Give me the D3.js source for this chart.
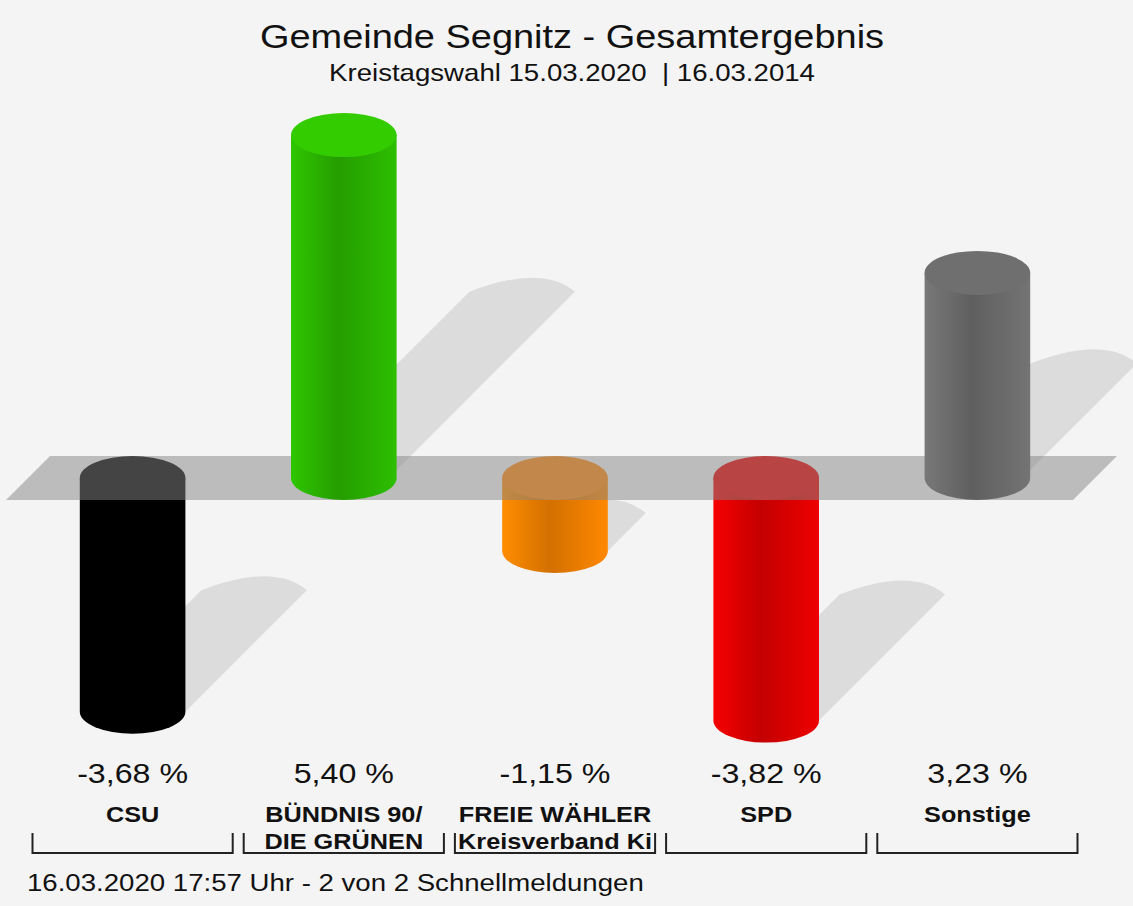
<!DOCTYPE html>
<html>
<head>
<meta charset="utf-8">
<script src="https://cdn.jsdelivr.net/npm/d3@7"></script>
<style>
	body{ margin:0; background:#f4f4f4; }
	text{ font-family:"Liberation Sans", Arial, sans-serif; fill:#111; white-space:pre; }
</style>
</head>
<body>
<svg id="chart"></svg>
<script>
'use strict'

var parties = ['CSU', 'BÜNDNIS 90/', 'FREIE WÄHLER', 'SPD', 'Sonstige'];
var partiesLine2 = ['', 'DIE GRÜNEN', 'Kreisverband Ki', '', ''];
var changes = [-3.68, 5.40, -1.15, -3.82, 3.23];
var colors = ['#000000', '#2dbf00', '#ff8800', '#ee0000', '#747474'];
var capColors = ['#000000', '#33cc00', '#ff8a10', '#ee0000', '#6f6f6f'];

var title = 'Gemeinde Segnitz - Gesamtergebnis';
var subtitle = 'Kreistagswahl 15.03.2020  | 16.03.2014';
var footer = '16.03.2020 17:57 Uhr - 2 von 2 Schnellmeldungen';

var W = 1133, H = 906;
var svg = d3.select('#chart').attr('width', W).attr('height', H);

svg.append('rect').attr('width', W).attr('height', H).attr('fill', '#f4f4f4');

var x = d3.scaleBand()
	.domain(d3.range(parties.length))
	.range([27, 1083]);

var y = d3.scaleLinear()
	.domain([-4, 6])
	.range([732, 97]);

var de = d3.formatLocale({ decimal: ',', thousands: '.', grouping: [3], currency: ['', ' €'], minus: '-' });
var fmt = de.format('.2f');

var barW = x.bandwidth() * 0.5;
var ry = 22;
var depth = 44;

function geom(i){
	var x0 = x(i) + (x.bandwidth() - barW) / 2;
	return { x0: x0, x1: x0 + barW, cx: x0 + barW / 2, rx: barW / 2 };
}

// gradients
var defs = svg.append('defs');
colors.forEach(function(c, i){
	var base = d3.color(c);
	var grad = defs.append('linearGradient')
		.attr('id', 'g' + i)
		.attr('x1', 0).attr('x2', 1).attr('y1', 0).attr('y2', 0);
	grad.append('stop').attr('offset', '0%').attr('stop-color', base.brighter(0.1));
	grad.append('stop').attr('offset', '45%').attr('stop-color', base.darker(0.55));
	grad.append('stop').attr('offset', '100%').attr('stop-color', base);
});

// shadows
function shadowPath(i){
	var g = geom(i), v = changes[i];
	var base = v >= 0 ? y(0) - 8 : y(v);
	var L = 0.52 * Math.abs(y(v) - y(0));
	var top = base - L;
	return 'M' + g.x0 + ',' + base +
		'L' + g.x1 + ',' + base +
		'L' + (g.x1 + L) + ',' + top +
		'Q' + (g.cx + L + 20) + ',' + (top - 28) + ' ' + (g.x0 + L) + ',' + top + 'Z';
}

svg.append('g').selectAll('path')
	.data(d3.range(parties.length))
	.enter().append('path')
	.attr('d', shadowPath)
	.attr('fill', '#dcdcdc');

function bodyPath(i){
	var g = geom(i);
	var a = y(0), b = y(changes[i]);
	var top = Math.min(a, b), bottom = Math.max(a, b);
	return 'M' + g.x0 + ',' + top +
		'L' + g.x0 + ',' + bottom +
		'A' + g.rx + ',' + ry + ' 0 0 0 ' + g.x1 + ',' + bottom +
		'L' + g.x1 + ',' + top + 'Z';
}

function drawBars(layer, idx){
	var bars = layer.selectAll('g').data(idx).enter().append('g');
	bars.append('path')
		.attr('d', bodyPath)
		.attr('fill', function(i){ return 'url(#g' + i + ')'; });
	bars.append('ellipse')
		.attr('cx', function(i){ return geom(i).cx; })
		.attr('cy', function(i){ return Math.min(y(0), y(changes[i])); })
		.attr('rx', function(i){ return geom(i).rx; })
		.attr('ry', ry)
		.attr('fill', function(i){ return capColors[i]; });
}

var idx = d3.range(parties.length);

// negative bars sit under the zero plane
drawBars(svg.append('g'), idx.filter(function(i){ return changes[i] < 0; }));

// zero plane
var z = y(0);
var left = x.range()[0] - 21, right = x.range()[1] - 10;
svg.append('path')
	.attr('d', 'M' + left + ',' + (z + ry) +
		'L' + right + ',' + (z + ry) +
		'L' + (right + depth) + ',' + (z - ry) +
		'L' + (left + depth) + ',' + (z - ry) + 'Z')
	.attr('fill', 'rgb(133,133,133)')
	.attr('fill-opacity', 0.51);

drawBars(svg.append('g'), idx.filter(function(i){ return changes[i] >= 0; }));

// texts
function stretchText(str, tx, ty, size, weight, anchor){
	return svg.append('text')
		.attr('transform', 'translate(' + tx + ',' + ty + ') scale(1.15,1)')
		.attr('text-anchor', anchor || 'middle')
		.style('font-size', size + 'px')
		.style('font-weight', weight || 'normal')
		.text(str);
}

stretchText(title, 572, 48, 33);
stretchText(subtitle, 572, 81, 24);

idx.forEach(function(i){
	var cx = x(i) + x.bandwidth() / 2;
	stretchText(fmt(changes[i]) + ' %', cx, 783, 28);
	stretchText(parties[i], cx, 822, 22, 'bold');
	if(partiesLine2[i])
		stretchText(partiesLine2[i], cx, 849, 22, 'bold');

	var hw = x.step() / 2 - 5.5;
	svg.append('path')
		.attr('d', 'M' + (cx - hw) + ',833V853H' + (cx + hw) + 'V833')
		.attr('fill', 'none')
		.attr('stroke', '#222')
		.attr('stroke-width', 2);
});

stretchText(footer, 27, 891, 24, 'normal', 'start');
</script>
</body>
</html>
